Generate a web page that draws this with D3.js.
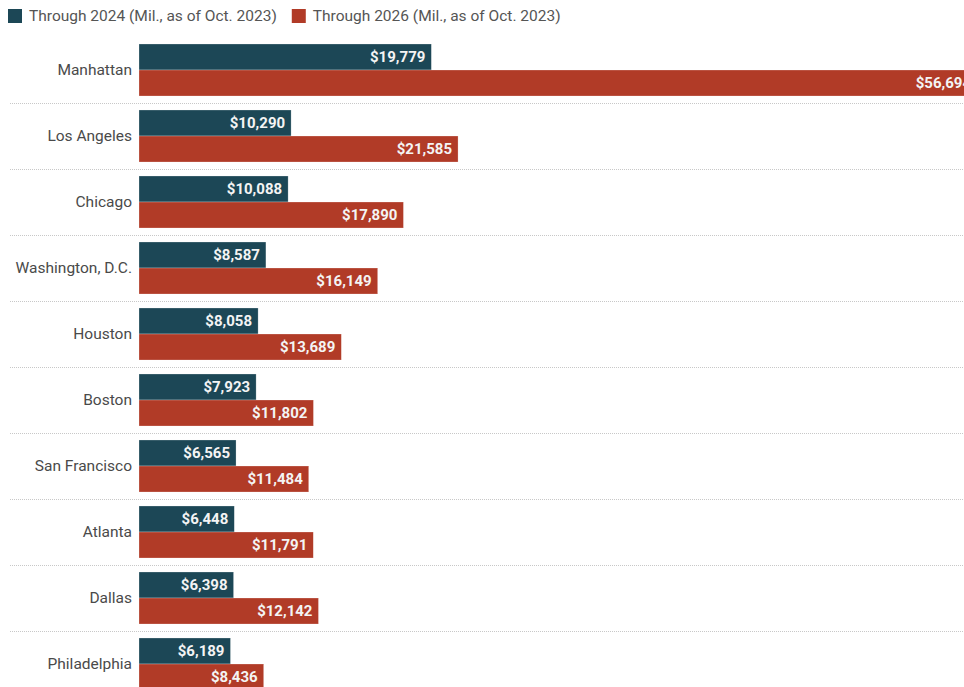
<!DOCTYPE html>
<html>
<head>
<meta charset="utf-8">
<script src="https://cdn.jsdelivr.net/npm/d3@7"></script>
<style>
  body { margin: 0; background: #fff; font-family: Roboto, "Open Sans", sans-serif; overflow: hidden; }
</style>
</head>
<body>
<div id="chart"></div>
<script>
var cities = ["Manhattan", "Los Angeles", "Chicago", "Washington, D.C.", "Houston",
  "Boston", "San Francisco", "Atlanta", "Dallas", "Philadelphia"];
var through2024 = [19779, 10290, 10088, 8587, 8058, 7923, 6565, 6448, 6398, 6189];
var through2026 = [56694, 21585, 17890, 16149, 13689, 11802, 11484, 11791, 12142, 8436];
var seriesNames = ["Through 2024 (Mil., as of Oct. 2023)", "Through 2026 (Mil., as of Oct. 2023)"];
var colors = ["#1c4756", "#b13b27"];

var width = 964, height = 687;

var svg = d3.select("#chart").append("svg")
  .attr("width", width)
  .attr("height", height);

var data = cities.map((c, i) => ({ city: c, values: [through2024[i], through2026[i]] }));

var x = d3.scaleLinear().domain([0, d3.max(through2026)]).range([139, 977]);
var y0 = d3.scaleBand().domain(cities).range([37, 697]).paddingInner(0.212).paddingOuter(0.106);
var y1 = d3.scaleBand().domain([0, 1]).range([0, y0.bandwidth()]);
var fmt = d3.format("$,");

// legend
var legend = svg.append("g").attr("class", "legend");
var lx = 8;
seriesNames.forEach((name, i) => {
  var g = legend.append("g").attr("transform", "translate(" + lx + ",9)");
  g.append("rect").attr("width", 14).attr("height", 14).attr("fill", colors[i]);
  var t = g.append("text")
    .attr("x", 21).attr("y", 12)
    .attr("font-size", 15.5)
    .attr("fill", "#555")
    .text(name);
  lx += 21 + t.node().getComputedTextLength() + 15;
});

// separators
svg.append("g")
  .selectAll("line")
  .data(cities)
  .enter().append("line")
  .attr("x1", 10).attr("x2", width)
  .attr("y1", d => y0(d) + y0.bandwidth() + y0.step() * y0.paddingInner() / 2 + 0.5)
  .attr("y2", d => y0(d) + y0.bandwidth() + y0.step() * y0.paddingInner() / 2 + 0.5)
  .attr("stroke", "#c8c8c8")
  .attr("stroke-dasharray", "1,1");

// city labels
svg.append("g")
  .selectAll("text")
  .data(cities)
  .enter().append("text")
  .attr("x", 132)
  .attr("y", d => y0(d) + y0.bandwidth() / 2)
  .attr("dy", "0.35em")
  .attr("text-anchor", "end")
  .attr("font-size", 15.5)
  .attr("fill", "#4a4a4a")
  .text(d => d);

// bars
var groups = svg.append("g")
  .selectAll("g")
  .data(data)
  .enter().append("g")
  .attr("transform", d => "translate(0," + y0(d.city) + ")");

groups.selectAll("rect")
  .data(d => d.values)
  .enter().append("rect")
  .attr("x", x(0))
  .attr("y", (d, i) => y1(i))
  .attr("width", d => x(d) - x(0))
  .attr("height", y1.bandwidth())
  .attr("fill", (d, i) => colors[i])
  .attr("stroke", "#fff")
  .attr("stroke-opacity", 0.5)
  .attr("stroke-width", 0.5);

groups.selectAll("text")
  .data(d => d.values)
  .enter().append("text")
  .attr("x", d => x(d) - 6)
  .attr("y", (d, i) => y1(i) + y1.bandwidth() / 2)
  .attr("dy", "0.36em")
  .attr("text-anchor", "end")
  .attr("font-size", 15)
  .attr("font-weight", 700)
  .attr("fill", "#f4f4f4")
  .text(d => fmt(d));
</script>
</body>
</html>
